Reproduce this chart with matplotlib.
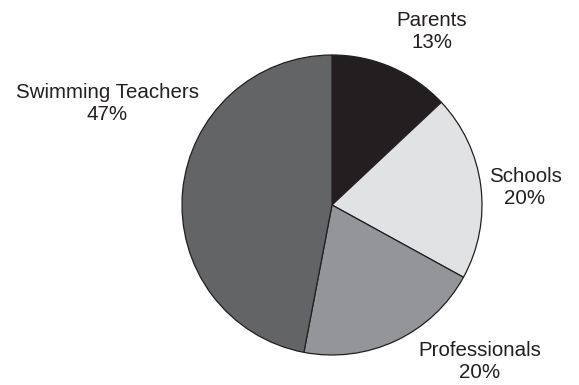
import matplotlib.pyplot as plt

labels = ["Parents", "Schools", "Professionals", "Swimming Teachers"]
shares = [13, 20, 20, 47]
colors = ["#231f20", "#e1e2e3", "#939598", "#636466"]

# label anchor points in pixel space (x, y from top)
label_pos = [(432, 31), (525, 188), (480, 362), (107, 104)]

plt.rcParams["font.family"] = ["Liberation Sans", "DejaVu Sans"]

fig = plt.figure(figsize=(5.79, 3.85), dpi=100)
ax = fig.add_axes([0, 0, 1, 1])

ax.pie(shares, colors=colors, startangle=90, counterclock=False,
       center=(332, 180), radius=150,
       wedgeprops=dict(edgecolor="#231f20", linewidth=0.9))
ax.set_xlim(0, 579)
ax.set_ylim(0, 385)
ax.axis("off")

for name, val, (x, y) in zip(labels, shares, label_pos):
    ax.text(x, 385 - y, f"{name}\n{val}%", ha="center", va="center",
            fontsize=14.8, color="#231f20", linespacing=1.2)

fig.savefig("out.png", dpi=100)
